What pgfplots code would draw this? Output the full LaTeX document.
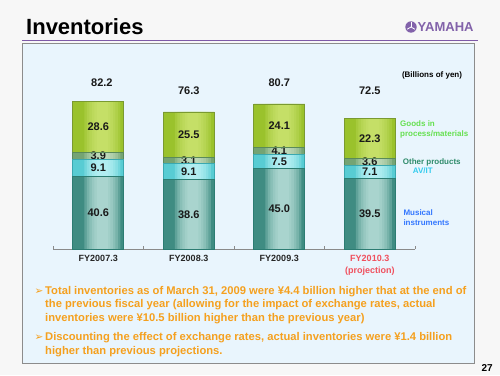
\documentclass[border=0pt]{standalone}
\usepackage{pgfplots}
\usepackage{pgfplotstable}
\pgfplotsset{compat=1.18}
\usepackage{fontspec}
\setmainfont{Liberation Sans}
\newfontfamily\dejavu{DejaVu Sans}
\definecolor{slidebg}{HTML}{F7F7F7}
\definecolor{panelbg}{HTML}{E9F5FD}
\definecolor{panelborder}{HTML}{8C8C8C}
\definecolor{purpleline}{HTML}{7E5AA8}
\definecolor{yamaha}{HTML}{8262AA}
\definecolor{axisgray}{HTML}{8A8A8A}
\definecolor{projred}{HTML}{F0505E}
\definecolor{orangetext}{HTML}{F5A01E}
\definecolor{midark}{HTML}{3F8C82}
\definecolor{milight}{HTML}{C2E6E0}
\definecolor{miedge}{HTML}{2C7C72}
\definecolor{avdark}{HTML}{58CCD3}
\definecolor{avlight}{HTML}{C6F6F8}
\definecolor{avedge}{HTML}{3AA8B0}
\definecolor{otdark}{HTML}{74A474}
\definecolor{otlight}{HTML}{CFE4C8}
\definecolor{otedge}{HTML}{5A8A5A}
\definecolor{gddark}{HTML}{9AC22C}
\definecolor{gdlight}{HTML}{D6EC7E}
\definecolor{gdedge}{HTML}{7A9A30}
\definecolor{goodstxt}{HTML}{66E050}
\definecolor{othertxt}{HTML}{2E8B6A}
\definecolor{avtxt}{HTML}{33CCEE}
\definecolor{mitxt}{HTML}{3377FF}
% inventories, billions of yen: musical instruments, AV/IT, other products, goods in process/materials
\pgfplotstableread{
x  mi   av  ot  gd
0  40.6 9.1 3.9 28.6
1  38.6 9.1 3.1 25.5
2  45.0 7.5 4.1 24.1
3  39.5 7.1 3.6 22.3
}\inv
\pgfplotsset{invaxis/.style={at={(53pt,126pt)}, anchor=south west, scale only axis,
  width=362pt, height=179.7pt, xmin=-0.5, xmax=3.5, ymin=0, ymax=100, clip=false}}
\begin{document}
\begin{tikzpicture}[x=1pt,y=1pt,
  lbl/.style={font=\fontsize{11}{12}\selectfont\bfseries, text=black!90, inner sep=0},
  leg/.style={anchor=base west, inner sep=0, font=\fontsize{8}{9}\selectfont\bfseries},
  bul/.style={anchor=base west, inner sep=0, text=orangetext, font=\fontsize{11.2}{13}\selectfont\bfseries},
  arr/.style={anchor=base west, inner sep=0, text=orangetext, font=\dejavu\fontsize{10.5}{12}\selectfont}]
\fill[slidebg] (0,0) rectangle (500,375);
\filldraw[fill=panelbg, draw=panelborder, line width=0.8pt] (22,12) rectangle (474,332);
\draw[purpleline, line width=1.6pt] (22,334.5) -- (478,334.5);
\node[anchor=base west, inner sep=0, font=\fontsize{22}{24}\selectfont\bfseries] at (26,340) {Inventories};
% logo
\fill[yamaha] (411,348) circle (5.7);
\foreach \a in {90,210,330} \draw[white, line width=0.8pt] (411,348) -- ++(\a:4.5);
\node[anchor=base west, inner sep=0, text=yamaha, font=\fontsize{13}{14}\selectfont\bfseries] at (417.5,343) {YAMAHA};

% base fills
\begin{axis}[invaxis, hide axis, ybar stacked, bar width=51pt]
\addplot[draw=none, fill=midark] table[x=x, y=mi] {\inv};
\addplot[draw=none, fill=avdark] table[x=x, y=av] {\inv};
\addplot[draw=none, fill=otdark] table[x=x, y=ot] {\inv};
\addplot[draw=none, fill=gddark] table[x=x, y=gd] {\inv};
\end{axis}
% highlight stripes (cylinder look)
\foreach \w in {36pt,31pt,26pt,21pt,16pt,11pt} {
\begin{axis}[invaxis, hide axis, ybar stacked, bar width=\w, bar shift=4pt]
\addplot[draw=none, fill=milight, fill opacity=0.25] table[x=x, y=mi] {\inv};
\addplot[draw=none, fill=avlight, fill opacity=0.25] table[x=x, y=av] {\inv};
\addplot[draw=none, fill=otlight, fill opacity=0.25] table[x=x, y=ot] {\inv};
\addplot[draw=none, fill=gdlight, fill opacity=0.2] table[x=x, y=gd] {\inv};
\end{axis}
}
% outlines, axis, labels
\begin{axis}[invaxis,
 ybar stacked, bar width=51pt,
 axis x line*=bottom, hide y axis,
 axis line style={draw=axisgray, line width=0.8pt},
 xtick={0,1,2,3},
 xticklabels={FY2007.3,FY2008.3,FY2009.3,{\textcolor{projred}{FY2010.3}\\\textcolor{projred}{(projection)}}},
 xticklabel style={font=\fontsize{9}{11.6}\selectfont\bfseries, align=center, text=black!85, yshift=-3pt},
 major tick length=0pt,
 minor xtick={-0.5,0.5,1.5,2.5,3.5},
 minor tick length=3pt,
 tick align=inside,
 every minor tick/.append style={draw=axisgray, line width=0.6pt},
]
\addplot[draw=miedge, line width=0.6pt, fill=none] table[x=x, y=mi] {\inv};
\addplot[draw=avedge, line width=0.6pt, fill=none] table[x=x, y=av] {\inv};
\addplot[draw=otedge, line width=0.6pt, fill=none] table[x=x, y=ot] {\inv};
\addplot[draw=gdedge, line width=0.6pt, fill=none] table[x=x, y=gd] {\inv};
\node[lbl] at (axis cs:0,20.3) {40.6};
\node[lbl] at (axis cs:0,45.15) {9.1};
\node[lbl] at (axis cs:0,51.65) {3.9};
\node[lbl] at (axis cs:0,67.9) {28.6};
\node[lbl] at (axis cs:1,19.3) {38.6};
\node[lbl] at (axis cs:1,43.15) {9.1};
\node[lbl] at (axis cs:1,49.25) {3.1};
\node[lbl] at (axis cs:1,63.55) {25.5};
\node[lbl] at (axis cs:2,22.5) {45.0};
\node[lbl] at (axis cs:2,48.75) {7.5};
\node[lbl] at (axis cs:2,54.55) {4.1};
\node[lbl] at (axis cs:2,68.65) {24.1};
\node[lbl] at (axis cs:3,19.75) {39.5};
\node[lbl] at (axis cs:3,43.05) {7.1};
\node[lbl] at (axis cs:3,48.4) {3.6};
\node[lbl] at (axis cs:3,61.35) {22.3};
\node[lbl] at (axis cs:0.04,92.4) {82.2};
\node[lbl] at (axis cs:1,87.9) {76.3};
\node[lbl] at (axis cs:2,92.4) {80.7};
\node[lbl] at (axis cs:3,87.9) {72.5};
\end{axis}

\node[leg, anchor=base] at (432,297.1) {(Billions of yen)};
\node[leg, text=goodstxt] at (400,248) {Goods in};
\node[leg, text=goodstxt] at (400,238) {process/materials};
\node[leg, text=othertxt] at (402.7,210.3) {Other products};
\node[leg, text=avtxt] at (412.7,201) {AV/IT};
\node[leg, text=mitxt] at (403.3,159.3) {Musical};
\node[leg, text=mitxt] at (403.3,149.3) {instruments};

\node[arr] at (34.5,80.7) {➢};
\node[bul] at (45,80.7) {Total inventories as of March 31, 2009 were ¥4.4 billion higher that at the end of};
\node[bul] at (45,67.4) {the previous fiscal year (allowing for the impact of exchange rates, actual};
\node[bul] at (45,53.7) {inventories were ¥10.5 billion higher than the previous year)};
\node[arr] at (34.5,34.1) {➢};
\node[bul] at (45,34.1) {Discounting the effect of exchange rates, actual inventories were ¥1.4 billion};
\node[bul] at (45,20.7) {higher than previous projections.};
\node[anchor=base east, inner sep=0, font=\fontsize{10}{12}\selectfont\bfseries] at (493,4) {27};
\end{tikzpicture}
\end{document}
